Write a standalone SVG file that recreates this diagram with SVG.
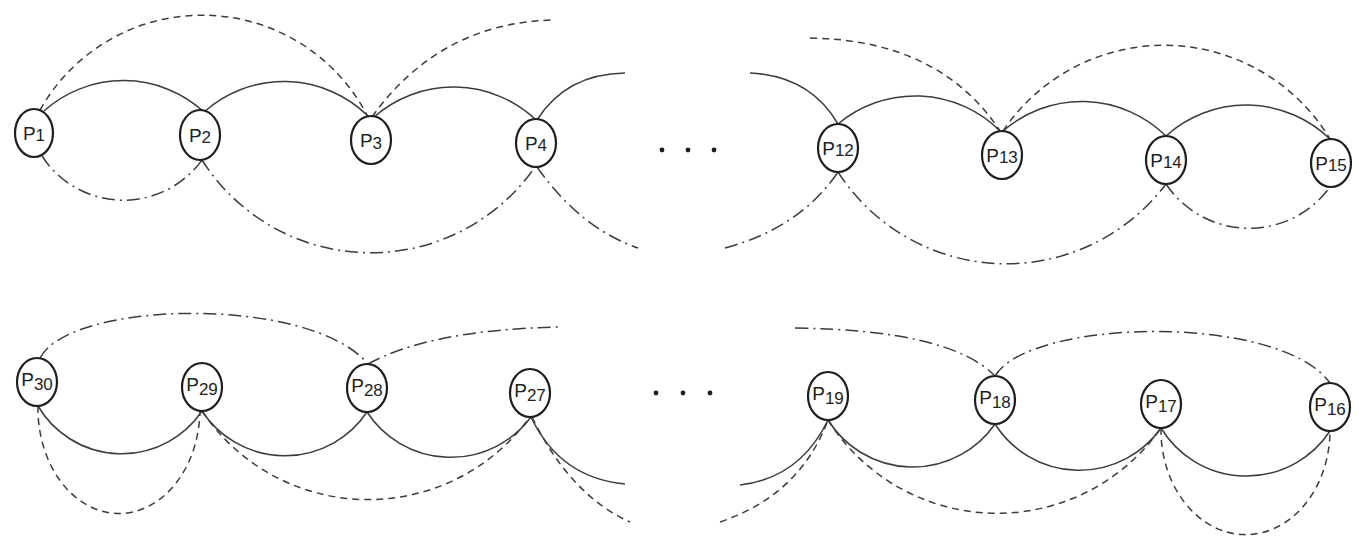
<svg xmlns="http://www.w3.org/2000/svg" width="1359" height="546" viewBox="0 0 1359 546">
  <style>
    .node ellipse { fill: #ffffff; stroke: #1e1e1e; stroke-width: 2.2; }
    .node text { font-family: "Liberation Sans", "DejaVu Sans", sans-serif; font-size: 19px; fill: #1e1e1e; text-anchor: middle; }
    .node tspan.sub { font-size: 17px; }
    .edge { fill: none; stroke: #3c3c3c; stroke-width: 1.5; }
    .dash { stroke-dasharray: 7 5; }
    .dashdot { stroke-dasharray: 13 5 2 5; }
    .ellipsis { fill: #1e1e1e; }
  </style>

  <rect width="1359" height="546" fill="#ffffff"/>

  <!-- connectors -->
  <g id="connectors">
    <!-- upper chain: solid arcs between neighbours -->
    <path class="edge" d="M44,111 A119,119 0 0 1 204,112"/>
    <path class="edge" d="M204,112 A120,120 0 0 1 368,116"/>
    <path class="edge" d="M374,117 A120,120 0 0 1 536,120"/>
    <path class="edge" d="M537,120 Q566,74 625,73"/>
    <path class="edge" d="M750,73 Q810,76 838,124"/>
    <path class="edge" d="M838,124 A120,120 0 0 1 1000,131"/>
    <path class="edge" d="M1003,131 A120,120 0 0 1 1166,136"/>
    <path class="edge" d="M1166,136 A120,120 0 0 1 1330,139"/>

    <!-- upper chain: dashed arcs skipping one node -->
    <path class="edge dash" d="M40,110 A186,186 0 0 1 368,117"/>
    <path class="edge dash" d="M372,117 Q440,22 555,20"/>
    <path class="edge dash" d="M810,38 Q940,40 1000,131"/>
    <path class="edge dash" d="M1003,131 A194,194 0 0 1 1330,139"/>

    <!-- upper chain: dash-dot arcs underneath -->
    <path class="edge dashdot" d="M42,156 A97,97 0 0 0 202,160"/>
    <path class="edge dashdot" d="M202,160 A200,200 0 0 0 535,167"/>
    <path class="edge dashdot" d="M537,167 Q580,228 638,248"/>
    <path class="edge dashdot" d="M725,248 Q800,228 838,172"/>
    <path class="edge dashdot" d="M838,172 A200,200 0 0 0 1166,184"/>
    <path class="edge dashdot" d="M1166,184 A100,100 0 0 0 1330,187"/>

    <!-- lower chain: dash-dot arcs above -->
    <path class="edge dashdot" d="M40,358 C70,300 310,295 368,364"/>
    <path class="edge dashdot" d="M368,364 Q430,330 558,327"/>
    <path class="edge dashdot" d="M795,328 Q950,330 995,376"/>
    <path class="edge dashdot" d="M995,376 C1030,318 1280,313 1330,383"/>

    <!-- lower chain: solid arcs below -->
    <path class="edge" d="M38,406 A97,97 0 0 0 202,411"/>
    <path class="edge" d="M202,411 A99,99 0 0 0 367,412"/>
    <path class="edge" d="M367,412 A100,100 0 0 0 531,417"/>
    <path class="edge" d="M531,417 Q560,478 625,484"/>
    <path class="edge" d="M740,485 Q800,478 828,420"/>
    <path class="edge" d="M828,420 A100,100 0 0 0 995,424"/>
    <path class="edge" d="M995,424 A100,100 0 0 0 1161,428"/>
    <path class="edge" d="M1161,428 A100,100 0 0 0 1330,431"/>

    <!-- lower chain: dashed arcs below, skipping one node -->
    <path class="edge dash" d="M38,406 A81,105 0 0 0 200,411"/>
    <path class="edge dash" d="M202,411 A200,200 0 0 0 530,417"/>
    <path class="edge dash" d="M532,417 Q570,495 630,522"/>
    <path class="edge dash" d="M720,522 Q800,495 828,420"/>
    <path class="edge dash" d="M828,420 A200,200 0 0 0 1161,428"/>
    <path class="edge dash" d="M1161,428 A84,104 0 0 0 1330,432"/>
  </g>

  <!-- upper chain nodes -->
  <g id="P1" class="node"><ellipse cx="34" cy="133" rx="19" ry="24"/><text x="34" y="140">P<tspan class="sub" dy="1">1</tspan></text></g>
  <g id="P2" class="node"><ellipse cx="200" cy="135" rx="20" ry="25"/><text x="200" y="142">P<tspan class="sub" dy="1">2</tspan></text></g>
  <g id="P3" class="node"><ellipse cx="371" cy="140" rx="20" ry="24"/><text x="371" y="147">P<tspan class="sub" dy="2">3</tspan></text></g>
  <g id="P4" class="node"><ellipse cx="536" cy="143" rx="20" ry="24"/><text x="536" y="150">P<tspan class="sub" dy="1">4</tspan></text></g>
  <g id="ellipsis-top">
    <circle class="ellipsis" cx="662" cy="150" r="2.4"/>
    <circle class="ellipsis" cx="688" cy="150" r="2.4"/>
    <circle class="ellipsis" cx="714" cy="150" r="2.4"/>
  </g>
  <g id="P12" class="node"><ellipse cx="838" cy="148" rx="20" ry="24"/><text x="838" y="155">P<tspan class="sub" dy="1">12</tspan></text></g>
  <g id="P13" class="node"><ellipse cx="1002" cy="155" rx="20" ry="24"/><text x="1002" y="162">P<tspan class="sub" dy="1">13</tspan></text></g>
  <g id="P14" class="node"><ellipse cx="1166" cy="160" rx="20" ry="24"/><text x="1166" y="167">P<tspan class="sub" dy="1">14</tspan></text></g>
  <g id="P15" class="node"><ellipse cx="1331" cy="163" rx="20" ry="24"/><text x="1331" y="170">P<tspan class="sub" dy="1">15</tspan></text></g>

  <!-- lower chain nodes -->
  <g id="P30" class="node"><ellipse cx="37" cy="382" rx="20" ry="24"/><text x="37" y="386">P<tspan class="sub" dy="4">30</tspan></text></g>
  <g id="P29" class="node"><ellipse cx="202" cy="387" rx="20" ry="24"/><text x="202" y="391">P<tspan class="sub" dy="4">29</tspan></text></g>
  <g id="P28" class="node"><ellipse cx="367" cy="388" rx="20" ry="24"/><text x="367" y="392">P<tspan class="sub" dy="4">28</tspan></text></g>
  <g id="P27" class="node"><ellipse cx="530" cy="393" rx="20" ry="24"/><text x="530" y="397">P<tspan class="sub" dy="4">27</tspan></text></g>
  <g id="ellipsis-bottom">
    <circle class="ellipsis" cx="656" cy="393" r="2.4"/>
    <circle class="ellipsis" cx="683" cy="393" r="2.4"/>
    <circle class="ellipsis" cx="710" cy="393" r="2.4"/>
  </g>
  <g id="P19" class="node"><ellipse cx="828" cy="396" rx="20" ry="24"/><text x="828" y="400">P<tspan class="sub" dy="4">19</tspan></text></g>
  <g id="P18" class="node"><ellipse cx="995" cy="400" rx="20" ry="24"/><text x="995" y="404">P<tspan class="sub" dy="4">18</tspan></text></g>
  <g id="P17" class="node"><ellipse cx="1161" cy="404" rx="20" ry="24"/><text x="1161" y="408">P<tspan class="sub" dy="4">17</tspan></text></g>
  <g id="P16" class="node"><ellipse cx="1330" cy="407" rx="20" ry="24"/><text x="1330" y="411">P<tspan class="sub" dy="4">16</tspan></text></g>
</svg>
